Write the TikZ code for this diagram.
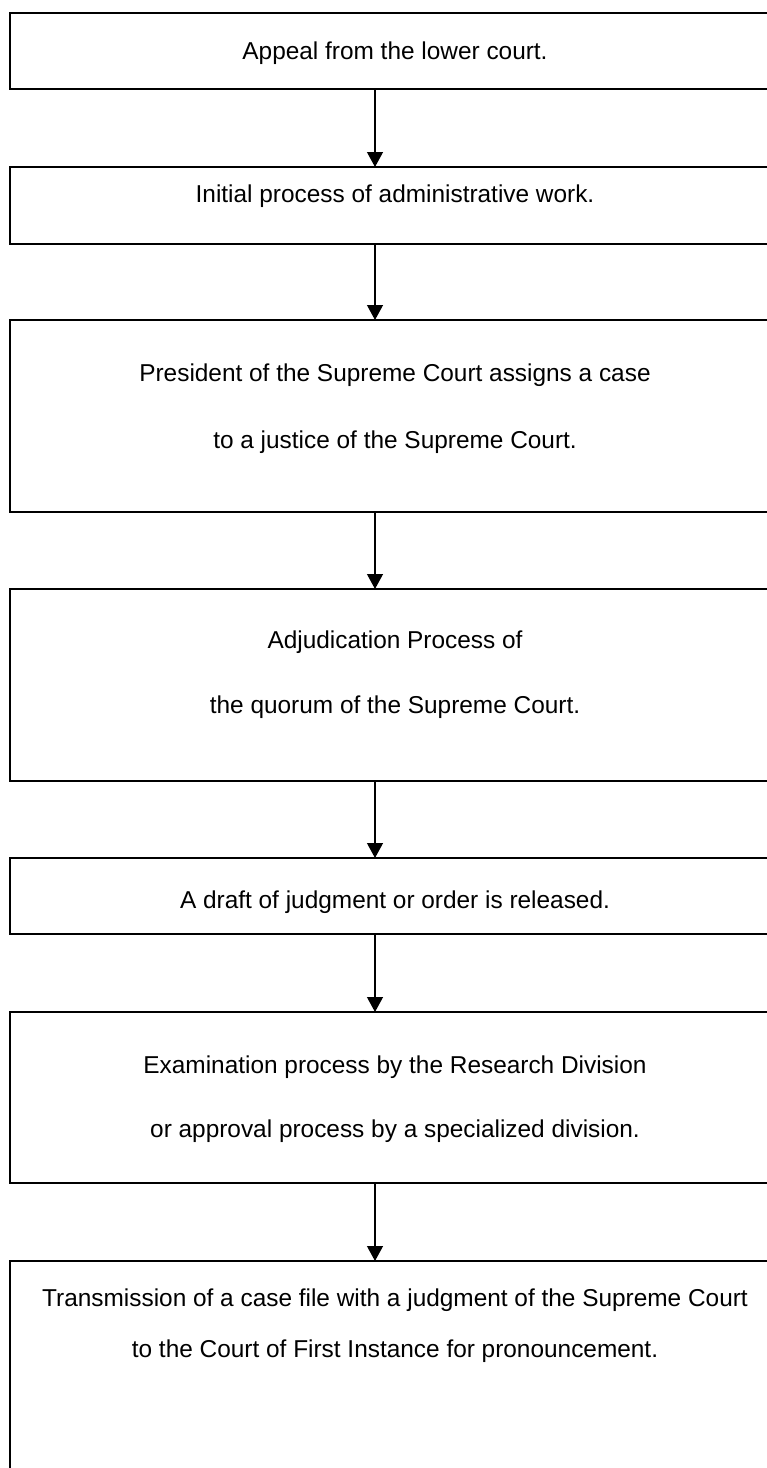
\documentclass[tikz,border=0pt]{standalone}
\usepackage{fontspec}
\setmainfont{Liberation Sans}
\usetikzlibrary{arrows.meta}
\tikzset{
  box/.style={draw=black, line width=1.8pt, rectangle, inner sep=0pt, outer sep=0pt, anchor=north west, minimum width=770pt},
  txt/.style={anchor=base, inner sep=0pt, font=\fontsize{24.4}{28}\selectfont},
  arr/.style={line width=1.2pt, -{Triangle[width=16pt,length=15pt]}}
}
\begin{document}
\begin{tikzpicture}[x=1pt,y=-1pt]
\useasboundingbox (0,0) rectangle (767,1468);
\clip (0,0) rectangle (767,1468);
\fill[white] (0,0) rectangle (767,1468);
\coordinate (ax) at (375,0);
% boxes
\node[box, minimum height=76pt]  (b1) at (10,13) {};
\node[box, minimum height=77pt]  (b2) at (10,167) {};
\node[box, minimum height=192pt] (b3) at (10,320) {};
\node[box, minimum height=192pt] (b4) at (10,589) {};
\node[box, minimum height=76pt]  (b5) at (10,858) {};
\node[box, minimum height=171pt] (b6) at (10,1012) {};
\node[box, minimum height=260pt] (b7) at (10,1261) {};
% texts
\node[txt] (t1)  at (395,59)   {Appeal from the lower court.};
\node[txt] (t2)  at (395,202)  {Initial process of administrative work.};
\node[txt] (t3a) at (395,381)  {President of the Supreme Court assigns a case};
\node[txt] (t3b) at (395,448)  {to a justice of the Supreme Court.};
\node[txt] (t4a) at (395,648)  {Adjudication Process of};
\node[txt] (t4b) at (395,713)  {the quorum of the Supreme Court.};
\node[txt] (t5)  at (395,908)  {A draft of judgment or order is released.};
\node[txt] (t6a) at (395,1073) {Examination process by the Research Division};
\node[txt] (t6b) at (395,1137) {or approval process by a specialized division.};
\node[txt] (t7a) at (395,1306) {Transmission of a case file with a judgment of the Supreme Court};
\node[txt] (t7b) at (395,1357) {to the Court of First Instance for pronouncement.};
% arrows
\draw[arr] (b1.south -| ax) -- (b2.north -| ax);
\draw[arr] (b2.south -| ax) -- (b3.north -| ax);
\draw[arr] (b3.south -| ax) -- (b4.north -| ax);
\draw[arr] (b4.south -| ax) -- (b5.north -| ax);
\draw[arr] (b5.south -| ax) -- (b6.north -| ax);
\draw[arr] (b6.south -| ax) -- (b7.north -| ax);
\end{tikzpicture}
\end{document}
